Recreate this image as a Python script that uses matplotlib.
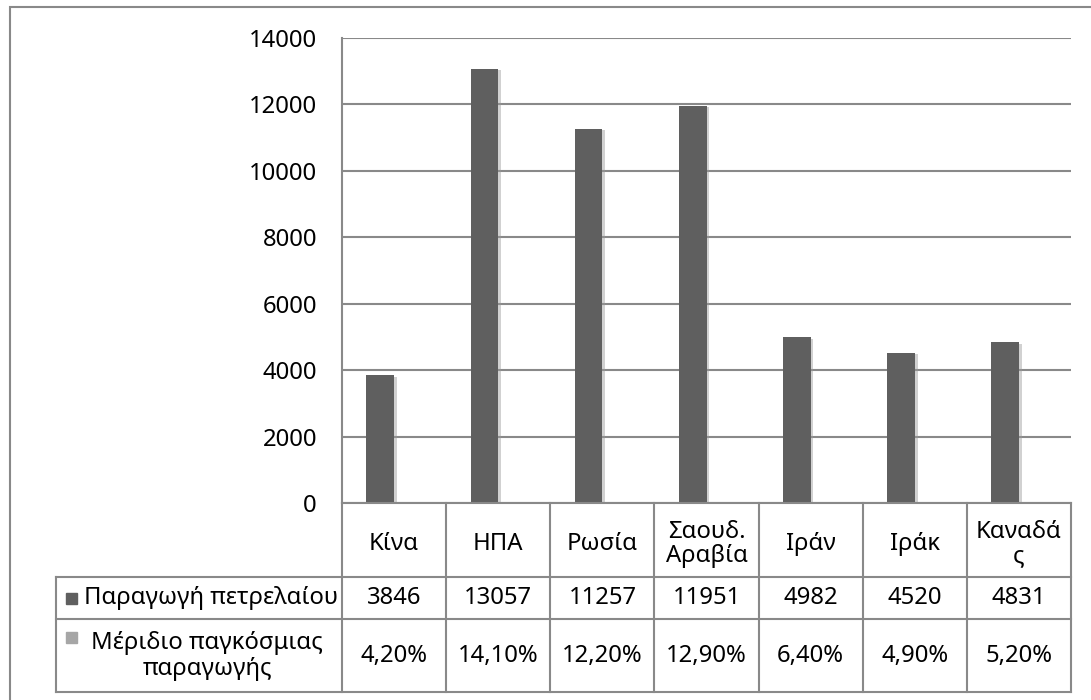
import numpy as np
import matplotlib.pyplot as plt
import matplotlib.patheffects as pe
from matplotlib.patches import Rectangle
from matplotlib.transforms import blended_transform_factory

plt.rcParams['font.family'] = ['Noto Sans', 'DejaVu Sans']

countries = ['Κίνα', 'ΗΠΑ', 'Ρωσία', 'Σαουδ.\nΑραβία', 'Ιράν', 'Ιράκ', 'Καναδά\nς']
production = [3846, 13057, 11257, 11951, 4982, 4520, 4831]
share = [4.2, 14.1, 12.2, 12.9, 6.4, 4.9, 5.2]
share_labels = ['4,20%', '14,10%', '12,20%', '12,90%', '6,40%', '4,90%', '5,20%']
series_names = ['Παραγωγή πετρελαίου', 'Μέριδιο παγκόσμιας\nπαραγωγής']
colors = ['#5f5f5f', '#a6a6a6']
line_c = '#898989'

W, H = 1091, 700
fig = plt.figure(figsize=(W / 100, H / 100), dpi=100)


def fy(py):
    # pixel row (from top) -> figure fraction
    return 1 - py / H


# outer frame (right and bottom sides fall outside the picture)
fig.patches.append(Rectangle((10 / W, fy(720)), 1100 / W, (720 - 7) / H,
                             transform=fig.transFigure, fill=False,
                             edgecolor=line_c, linewidth=1.5))

ax_l, ax_r, ax_t, ax_b = 342, 1071, 37.7, 503
ax = fig.add_axes([ax_l / W, fy(ax_b), (ax_r - ax_l) / W, (ax_b - ax_t) / H])

x = np.arange(len(countries))
w = 0.265
shadow = [pe.SimplePatchShadow(offset=(2, -1), shadow_rgbFace='#999999', alpha=0.45), pe.Normal()]
ax.bar(x - w / 2, production, w, color=colors[0], zorder=3, path_effects=shadow)
# share is a percentage (fraction of 1), so it is practically invisible on this scale
ax.bar(x + w / 2, np.array(share) / 100, w, color=colors[1], zorder=3)

fs = 17.2
ax.set_xlim(-0.5, len(countries) - 0.5)
ax.set_ylim(0, 14000)
ax.set_yticks(range(0, 14001, 2000))
ax.tick_params(axis='y', length=0, pad=18, labelsize=fs)
ax.set_xticks([])
ax.yaxis.grid(True, color=line_c, linewidth=1.5, zorder=0)
for s in ['top', 'right', 'bottom']:
    ax.spines[s].set_visible(False)
ax.spines['left'].set_color(line_c)
ax.spines['left'].set_linewidth(1.5)

# data table under the chart
tr = blended_transform_factory(ax.transData, fig.transFigure)
row_y = [ax_b, 577, 619, 692]
edges = np.arange(len(countries) + 1) - 0.5
for e in edges:
    ax.plot([e, e], [fy(row_y[0]), fy(row_y[-1])], color=line_c, lw=1.5,
            transform=tr, clip_on=False)
for ry in row_y[1:]:
    fig.add_artist(plt.Line2D([56 / W, ax_r / W], [fy(ry), fy(ry)],
                              color=line_c, lw=1.5))
fig.add_artist(plt.Line2D([ax_l / W, ax_r / W], [fy(ax_b), fy(ax_b)],
                          color=line_c, lw=1.5))
fig.add_artist(plt.Line2D([56 / W, 56 / W], [fy(577), fy(692)],
                          color=line_c, lw=1.5))

for i, c in enumerate(countries):
    ax.text(i, fy(544), c, transform=tr, ha='center', va='center',
            fontsize=fs, linespacing=1.05)
    ax.text(i, fy(598), str(production[i]), transform=tr, ha='center',
            va='center', fontsize=fs)
    ax.text(i, fy(656), share_labels[i], transform=tr, ha='center',
            va='center', fontsize=fs)

# row headers with legend keys
fig.patches.append(Rectangle((66 / W, fy(604)), 11 / W, 11 / H,
                             transform=fig.transFigure, color=colors[0]))
fig.text(84 / W, fy(598), series_names[0], ha='left', va='center', fontsize=fs)
fig.patches.append(Rectangle((66 / W, fy(643)), 11 / W, 11 / H,
                             transform=fig.transFigure, color=colors[1]))
fig.text(207 / W, fy(656), series_names[1], ha='center', va='center',
         fontsize=fs, linespacing=1.1)

fig.savefig('out.png', dpi=100)
